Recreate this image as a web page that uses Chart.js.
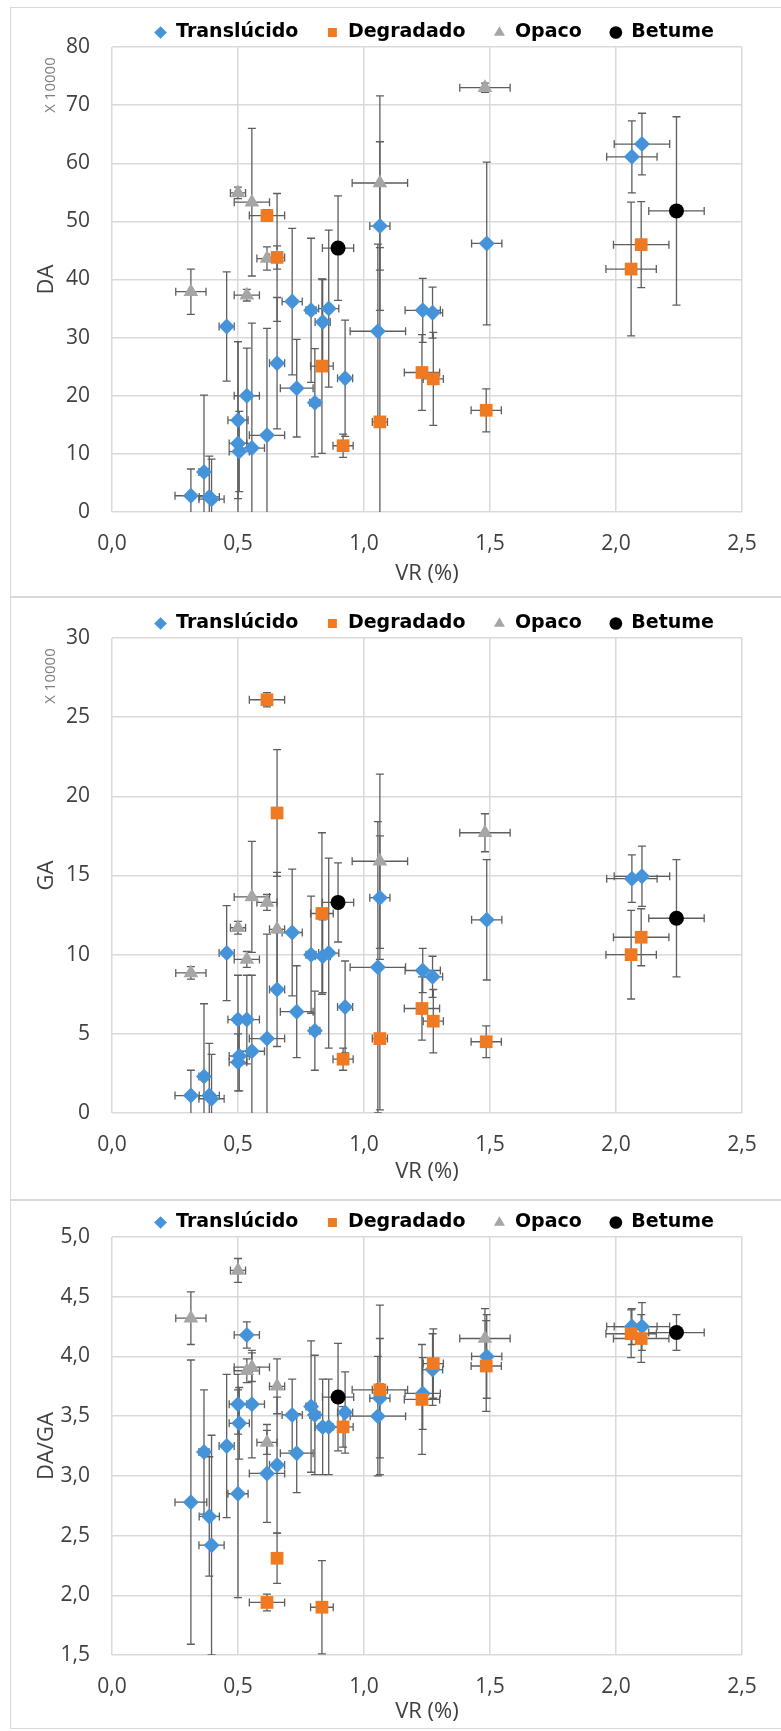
<!DOCTYPE html>
<html lang="pt">
<head>
<meta charset="utf-8">
<title>DA, GA e DA/GA em função de VR</title>
<script src="https://cdn.jsdelivr.net/npm/chart.js@4.4.1/dist/chart.umd.min.js"></script>
<style>
  html, body { margin: 0; padding: 0; background: #fff; }
  #sheet { position: relative; width: 781px; height: 1731px; overflow: hidden; }
  #sheet canvas { position: absolute; left: 0; }
</style>
</head>
<body>
<div id="sheet">
  <canvas id="daChart" width="781" height="597" style="top:0"></canvas>
  <canvas id="gaChart" width="781" height="603" style="top:597px"></canvas>
  <canvas id="ratioChart" width="781" height="531" style="top:1200px"></canvas>
</div>
<script>
// VR (%) per sample, shared by the three plots (value and half-width of the bar)
const vrTrans    = [0.313, 0.365, 0.386, 0.395, 0.455, 0.500, 0.500, 0.505, 0.535, 0.555, 0.615, 0.655, 0.715, 0.733, 0.790, 0.805, 0.836, 0.860, 0.925, 1.055, 1.063, 1.233, 1.272, 1.487, 2.063, 2.103];
const vrTransErr = [0.063, 0.020, 0.040, 0.050, 0.030, 0.040, 0.035, 0.040, 0.050, 0.050, 0.070, 0.030, 0.040, 0.065, 0.020, 0.020, 0.030, 0.040, 0.030, 0.110, 0.040, 0.070, 0.040, 0.060, 0.100, 0.110];
const vrDegr     = [0.615, 0.655, 0.833, 0.917, 1.063, 1.230, 1.275, 1.485, 2.060, 2.100];
const vrDegrErr  = [0.070, 0.020, 0.045, 0.040, 0.030, 0.070, 0.040, 0.060, 0.100, 0.110];
const vrOpaco    = [0.313, 0.500, 0.535, 0.555, 0.615, 0.655, 1.063, 1.480];
const vrOpacoErr = [0.060, 0.030, 0.050, 0.070, 0.040, 0.030, 0.110, 0.100];
const vrBet      = [0.897, 2.240];
const vrBetErr   = [0.062, 0.110];

// DA (x 10000)
const daTrans    = [2.8, 6.9, 2.6, 2.2, 31.9, 15.8, 11.8, 10.4, 20.0, 11.0, 13.2, 25.6, 36.2, 21.3, 34.7, 18.8, 32.7, 35.0, 23.0, 31.1, 49.2, 34.7, 34.3, 46.2, 61.1, 63.3];
const daTransErr = [4.6, 13.2, 7.0, 6.9, 9.4, 13.5, 17.5, 6.9, 8.2, 21.5, 18.4, 11.3, 12.6, 8.4, 12.4, 9.3, 7.3, 13.5, 10.0, 15.0, 14.5, 5.5, 4.4, 14.0, 6.2, 5.3];
const daDegr     = [51.0, 43.8, 25.1, 11.4, 15.5, 24.0, 22.9, 17.5, 41.8, 46.0];
const daDegrErr  = [1.0, 11.0, 15.0, 2.0, 30.0, 6.5, 8.0, 3.7, 11.5, 7.4];
const daOpaco    = [37.9, 54.9, 37.3, 53.3, 43.6, 43.8, 56.6, 73.0];
const daOpacoErr = [3.9, 1.0, 1.0, 12.7, 2.0, 2.0, 15.0, 0.8];
const daBet      = [45.4, 51.8];
const daBetErr   = [9.0, 16.2];

// GA (x 10000)
const gaTrans    = [1.1, 2.3, 1.1, 0.9, 10.1, 5.9, 3.2, 3.6, 5.9, 3.9, 4.7, 7.8, 11.4, 6.4, 10.0, 5.2, 9.9, 10.1, 6.7, 9.2, 13.6, 9.0, 8.6, 12.2, 14.8, 14.95];
const gaTransErr = [1.6, 4.6, 3.3, 2.8, 3.0, 2.8, 1.8, 2.2, 2.8, 4.8, 6.6, 3.6, 4.0, 2.9, 3.7, 2.5, 2.3, 6.0, 2.9, 9.2, 3.9, 1.4, 1.3, 3.8, 1.5, 1.9];
const gaDegr     = [26.1, 18.95, 12.6, 3.4, 4.7, 6.6, 5.8, 4.5, 10.0, 11.1];
const gaDegrErr  = [0.45, 4.0, 5.1, 0.7, 4.5, 2.0, 2.0, 1.0, 2.8, 1.8];
const gaOpaco    = [8.85, 11.7, 9.7, 13.65, 13.3, 11.6, 15.9, 17.7];
const gaOpacoErr = [0.4, 0.4, 0.5, 3.5, 0.5, 3.6, 5.5, 1.2];
const gaBet      = [13.3, 12.3];
const gaBetErr   = [2.5, 3.7];

// DA/GA
const rtTrans    = [2.78, 3.20, 2.66, 2.42, 3.25, 2.85, 3.60, 3.44, 4.18, 3.60, 3.02, 3.09, 3.51, 3.19, 3.58, 3.51, 3.41, 3.41, 3.53, 3.50, 3.65, 3.69, 3.89, 4.00, 4.25, 4.25];
const rtTransErr = [1.19, 0.52, 0.50, 0.92, 0.60, 0.87, 0.25, 0.30, 0.11, 0.45, 0.41, 0.57, 0.30, 0.33, 0.55, 0.50, 0.40, 0.40, 0.34, 0.50, 0.50, 0.30, 0.30, 0.35, 0.15, 0.20];
const rtDegr     = [1.94, 2.31, 1.90, 3.41, 3.72, 3.64, 3.94, 3.92, 4.19, 4.15];
const rtDegrErr  = [0.07, 0.21, 0.39, 0.17, 0.71, 0.46, 0.29, 0.38, 0.20, 0.20];
const rtOpaco    = [4.32, 4.72, 3.88, 3.91, 3.28, 3.75, 3.72, 4.15];
const rtOpacoErr = [0.22, 0.10, 0.10, 0.12, 0.10, 0.23, 0.05, 0.25];
const rtBet      = [3.66, 4.20];
const rtBetErr   = [0.45, 0.15];

const SERIES = [
  { label: 'Translúcido', color: '#4593d8', style: 'rectRot',  radius: 8,   order: 3, vr: vrTrans, vrErr: vrTransErr },
  { label: 'Degradado',   color: '#f07a22', style: 'rect',     radius: 9,   order: 2, vr: vrDegr,  vrErr: vrDegrErr },
  { label: 'Opaco',       color: '#a6a6a6', style: 'triangle', radius: 8.5, order: 4, vr: vrOpaco, vrErr: vrOpacoErr },
  { label: 'Betume',      color: '#000000', style: 'circle',   radius: 7.5, order: 1, vr: vrBet,   vrErr: vrBetErr }
];

const TEXT = '#404040';
const GRID = '#dadada';
const comma = (v, d) => Number(v).toFixed(d).replace('.', ',');

// whiskers in both directions, drawn under the markers
const errorBars = {
  id: 'errorBars',
  beforeDatasetsDraw(chart) {
    const { ctx, chartArea: a, scales: { x, y } } = chart;
    const cap = 4;
    ctx.save();
    ctx.beginPath();
    ctx.rect(a.left, a.top, a.right - a.left, a.bottom - a.top);
    ctx.clip();
    ctx.strokeStyle = '#5e5e5e';
    ctx.lineWidth = 1.3;
    chart.data.datasets.forEach(ds => {
      ds.data.forEach(p => {
        const px = x.getPixelForValue(p.x), py = y.getPixelForValue(p.y);
        const xl = x.getPixelForValue(p.x - p.xErr), xr = x.getPixelForValue(p.x + p.xErr);
        const yt = y.getPixelForValue(p.y + p.yErr), yb = y.getPixelForValue(p.y - p.yErr);
        ctx.beginPath();
        ctx.moveTo(xl, py); ctx.lineTo(xr, py);
        ctx.moveTo(xl, py - cap); ctx.lineTo(xl, py + cap);
        ctx.moveTo(xr, py - cap); ctx.lineTo(xr, py + cap);
        ctx.moveTo(px, yt); ctx.lineTo(px, yb);
        ctx.moveTo(px - cap, yt); ctx.lineTo(px + cap, yt);
        ctx.moveTo(px - cap, yb); ctx.lineTo(px + cap, yb);
        ctx.stroke();
      });
    });
    ctx.restore();
  }
};

// light border around each chart (right side runs off the page)
const frame = {
  id: 'frame',
  beforeDraw(chart, args, opts) {
    const ctx = chart.ctx;
    ctx.save();
    ctx.strokeStyle = '#d9d9d9';
    ctx.lineWidth = 1;
    ctx.strokeRect(10.5, opts.top + 0.5, chart.width, opts.bottom - opts.top - 1);
    ctx.restore();
  }
};

// "X 10000" unit note next to the y axis
const unitNote = {
  id: 'unitNote',
  afterDraw(chart, args, opts) {
    if (!opts.text) return;
    const { ctx, chartArea: a } = chart;
    ctx.save();
    ctx.translate(a.left - 61, a.top + 38);
    ctx.rotate(-Math.PI / 2);
    ctx.font = '15px "Open Sans"';
    ctx.fillStyle = '#7f7f7f';
    ctx.textAlign = 'center';
    ctx.textBaseline = 'middle';
    ctx.fillText(opts.text, 0, 0);
    ctx.restore();
  }
};

// the legend box keeps 10px spare below its row; move the row down into it
const legendNudge = {
  id: 'legendNudge',
  afterLayout(chart) {
    if (chart.legend) {
      chart.legend.top += 5;
      chart.legend.bottom += 5;
    }
  }
};

function datasets(values) {
  return SERIES.map((s, k) => ({
    label: s.label,
    data: s.vr.map((v, i) => ({ x: v, y: values[k][0][i], xErr: s.vrErr[i], yErr: values[k][1][i] })),
    pointStyle: s.style,
    pointRadius: s.radius,
    pointHoverRadius: s.radius,
    backgroundColor: s.color,
    borderColor: s.color,
    borderWidth: 0,
    order: s.order
  }));
}

function makePanel(id, cfg) {
  const tickFont = { family: '"Open Sans"', size: 21 };
  const titleFont = { family: '"Open Sans"', size: 22 };
  return new Chart(document.getElementById(id), {
    type: 'scatter',
    data: { datasets: datasets(cfg.values) },
    options: {
      responsive: false,
      animation: false,
      devicePixelRatio: 1,
      events: [],
      layout: { padding: { top: cfg.padTop, right: 39, bottom: 0, left: 0 } },
      plugins: {
        tooltip: { enabled: false },
        legend: {
          position: 'top',
          align: 'end',
          labels: {
            usePointStyle: true,
            boxWidth: 12,
            boxHeight: 9,
            padding: 28,
            color: '#000',
            font: { family: '"DejaVu Sans"', weight: 'bold', size: 19 },
            sort: (a, b) => a.datasetIndex - b.datasetIndex
          }
        },
        frame: { top: cfg.frameTop, bottom: cfg.frameBottom },
        unitNote: { text: cfg.unit }
      },
      scales: {
        x: {
          type: 'linear',
          min: 0,
          max: 2.5,
          ticks: { stepSize: 0.5, padding: 19, color: TEXT, font: tickFont, callback: v => comma(v, 1) },
          grid: { color: GRID, lineWidth: 1.5, drawTicks: false },
          border: { display: false },
          title: { display: true, text: 'VR (%)', color: TEXT, font: titleFont, padding: { top: 0, bottom: cfg.xTitlePad } },
          afterFit: s => { s.height = cfg.height - cfg.bottom; }
        },
        y: {
          type: 'linear',
          min: cfg.yMin,
          max: cfg.yMax,
          ticks: { stepSize: cfg.yStep, padding: 22, color: TEXT, font: tickFont, callback: v => comma(v, cfg.decimals) },
          grid: { color: GRID, lineWidth: 1.5, drawTicks: false },
          border: { display: false },
          title: { display: true, text: cfg.yTitle, color: TEXT, font: titleFont, padding: { top: 34, bottom: 0 } },
          afterFit: s => { s.width = 112; }
        }
      }
    },
    plugins: [frame, errorBars, unitNote, legendNudge]
  });
}

// legend row is 57px tall, so the top padding pulls it up to sit right over the plot
makePanel('daChart', {
  values: [[daTrans, daTransErr], [daDegr, daDegrErr], [daOpaco, daOpacoErr], [daBet, daBetErr]],
  yMin: 0, yMax: 80, yStep: 10, decimals: 0, yTitle: 'DA', unit: 'X 10000',
  height: 597, bottom: 512, padTop: -10, xTitlePad: 10, frameTop: 7, frameBottom: 597
});

makePanel('gaChart', {
  values: [[gaTrans, gaTransErr], [gaDegr, gaDegrErr], [gaOpaco, gaOpacoErr], [gaBet, gaBetErr]],
  yMin: 0, yMax: 30, yStep: 5, decimals: 0, yTitle: 'GA', unit: 'X 10000',
  height: 603, bottom: 516, padTop: -16, xTitlePad: 15, frameTop: 0, frameBottom: 603
});

makePanel('ratioChart', {
  values: [[rtTrans, rtTransErr], [rtDegr, rtDegrErr], [rtOpaco, rtOpacoErr], [rtBet, rtBetErr]],
  yMin: 1.5, yMax: 5.0, yStep: 0.5, decimals: 1, yTitle: 'DA/GA', unit: '',
  height: 531, bottom: 455, padTop: -20, xTitlePad: 6, frameTop: 0, frameBottom: 529
});
</script>
</body>
</html>
